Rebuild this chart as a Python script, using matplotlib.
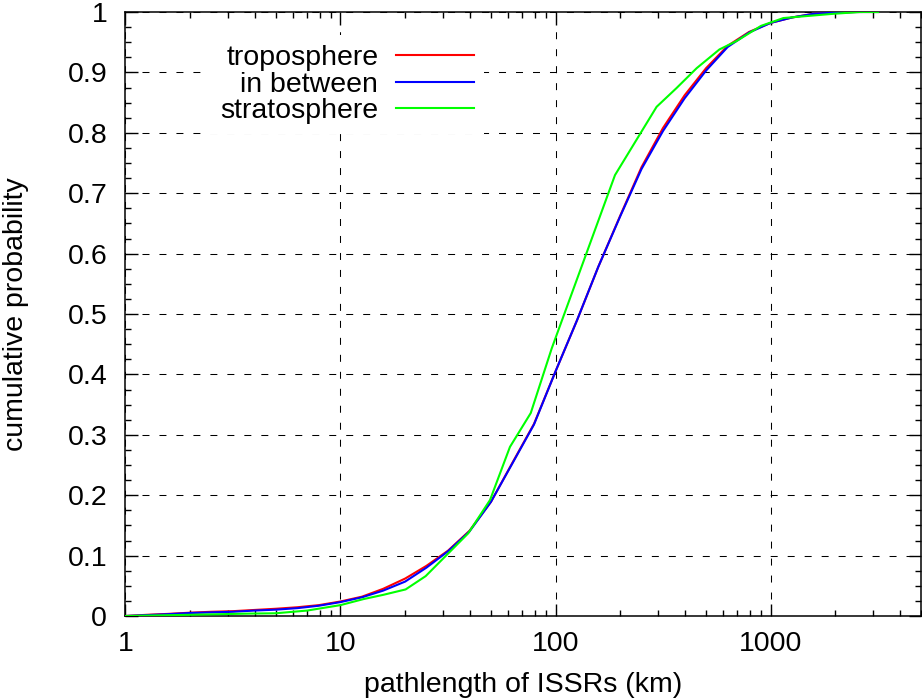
import matplotlib
matplotlib.use("Agg")
import matplotlib.pyplot as plt
from matplotlib.ticker import FixedLocator, FixedFormatter, LogLocator, NullFormatter, MultipleLocator

plt.rcParams['font.family'] = ['Liberation Sans', 'DejaVu Sans']

# ---- data ----
x_tb = [1, 1.26, 1.58, 2, 2.51, 3.16, 3.98, 5.01, 6.31, 7.94, 10, 12.6, 15.8, 20, 25.1, 31.6,
        39.8, 50.1, 63.1, 79.4, 100, 126, 158, 200, 251, 316, 398, 501, 631, 794, 1000,
        1259, 1585, 1995, 2512, 3162]
y_tropo = [0.000, 0.002, 0.0035, 0.0055, 0.007, 0.008, 0.010, 0.012, 0.0145, 0.018, 0.024,
           0.032, 0.045, 0.062, 0.083, 0.108, 0.141, 0.189, 0.254, 0.318, 0.405, 0.490,
           0.578, 0.663, 0.743, 0.808, 0.862, 0.907, 0.944, 0.967, 0.982, 0.991, 0.997,
           0.999, 1.000, 1.000]
y_between = [0.000, 0.0015, 0.003, 0.005, 0.006, 0.007, 0.009, 0.0105, 0.013, 0.017, 0.023,
             0.031, 0.042, 0.057, 0.080, 0.107, 0.140, 0.189, 0.253, 0.317, 0.405, 0.490,
             0.578, 0.662, 0.740, 0.803, 0.857, 0.903, 0.942, 0.966, 0.982, 0.991, 0.997,
             0.999, 1.000, 1.000]
x_strato = [1, 2, 3.8, 5, 7, 10, 12.8, 15.8, 20.1, 24.9, 39.3, 49.6, 61.4, 76.7, 96, 189,
            295, 365, 453, 578, 695, 902, 1146, 1950, 2600, 3162]
y_strato = [0.000, 0.002, 0.004, 0.0045, 0.009, 0.018, 0.028, 0.035, 0.044, 0.066, 0.137,
            0.192, 0.280, 0.336, 0.443, 0.730, 0.843, 0.874, 0.907, 0.938, 0.952, 0.977,
            0.990, 0.997, 1.000, 1.000]

labels = ['troposphere', 'in between', 'stratosphere']
colors = ['#ff0000', '#0000ff', '#00ff00']

x_major = [1, 10, 100, 1000]
x_major_labels = ['1', '10', '100', '1000']

FS = 20.5

fig = plt.figure(figsize=(9.22, 7), dpi=100)
ax = fig.add_axes([125.3 / 922, 84 / 700, (921 - 125.3) / 922, 604 / 700])

ax.plot(x_tb, y_tropo, color=colors[0], lw=1.5, label=labels[0], zorder=3)
ax.plot(x_tb, y_between, color=colors[1], lw=1.5, label=labels[1], zorder=4)
ax.plot(x_strato, y_strato, color=colors[2], lw=1.5, label=labels[2], zorder=5)

ax.set_xscale('log')
ax.set_xlim(1, 5000)
ax.set_ylim(0, 1)

ax.xaxis.set_major_locator(FixedLocator(x_major))
ax.xaxis.set_major_formatter(FixedFormatter(x_major_labels))
ax.xaxis.set_minor_locator(LogLocator(base=10, subs=range(2, 10), numticks=20))
ax.xaxis.set_minor_formatter(NullFormatter())
ax.yaxis.set_minor_locator(MultipleLocator(0.025))
ax.set_yticks([v / 10 for v in range(11)])
ax.set_yticklabels(['0'] + ['%.1f' % (v / 10) for v in range(1, 10)] + ['1'])

ax.tick_params(which='both', direction='in', top=True, right=True, width=1.0, labelsize=FS)
ax.tick_params(which='major', length=9)
ax.tick_params(which='minor', length=4)
ax.tick_params(axis='x', which='major', pad=10.5)
ax.tick_params(axis='y', which='major', pad=13)
for s in ax.spines.values():
    s.set_linewidth(1.1)

ax.grid(True, which='major', color='black', lw=0.75, linestyle=(0, (6.7, 9.6)), zorder=1)
ax.set_axisbelow(True)

ax.set_xlabel('pathlength of ISSRs (km)', fontsize=FS)
ax.set_ylabel('cumulative probability', fontsize=FS)
ax.xaxis.set_label_coords(0.5, -0.093)
ax.yaxis.set_label_coords(-0.121, 0.5)

leg = ax.legend(loc='upper right', bbox_to_anchor=(0.4508, 0.9613), borderaxespad=0,
                markerfirst=False, fontsize=FS, handlelength=2.73, handletextpad=0.63,
                labelspacing=0.01, borderpad=0.35, frameon=True, fancybox=False,
                framealpha=1, facecolor='white', edgecolor='none')
for t in leg.get_texts():
    t.set_ha('right')
leg.set_zorder(6)

fig.savefig('out.png', dpi=100)
